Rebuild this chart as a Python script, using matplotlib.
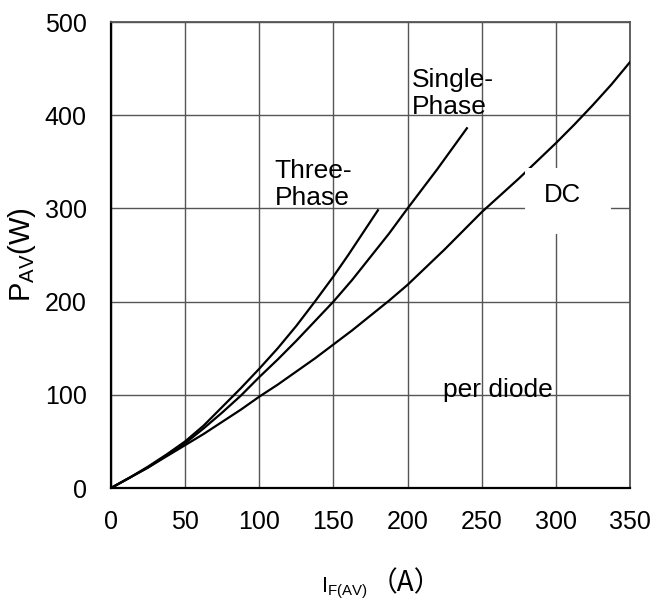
import matplotlib
matplotlib.use("Agg")
import matplotlib.pyplot as plt
from matplotlib.patches import Rectangle

plt.rcParams['font.family'] = ['Liberation Sans', 'Noto Sans CJK SC', 'DejaVu Sans']
plt.rcParams['mathtext.fontset'] = 'custom'
plt.rcParams['mathtext.rm'] = 'Liberation Sans'
plt.rcParams['mathtext.it'] = 'Liberation Sans'

# Data
dc_x = [0, 12.5, 25, 37.5, 50, 62.5, 75, 87.5, 100, 112.5, 125, 137.5, 150,
        162.5, 175, 187.5, 200, 212.5, 225, 237.5, 250, 262.5, 275, 287.5,
        300, 312.5, 325, 337.5, 350]
dc_y = [0, 11, 22, 34, 46, 58, 71, 84, 98, 111, 125, 139, 154,
        169, 185, 201, 218, 237, 256, 276, 296, 314, 332, 351,
        370, 390, 411, 433, 457]

single_x = [0, 12.5, 25, 37.5, 50, 62.5, 75, 87.5, 100, 112.5, 125, 137.5,
            150, 162.5, 175, 187.5, 200, 210, 220, 230, 240]
single_y = [0, 11, 22, 35, 48, 64, 81, 99, 119, 138, 158, 179,
            200, 223, 248, 273, 300, 321, 342, 364, 386]

three_x = [0, 12.5, 25, 37.5, 50, 62.5, 75, 87.5, 100, 112.5, 125, 137.5,
           150, 160, 170, 180]
three_y = [0, 11, 23, 36, 50, 67, 87, 107, 128, 150, 174, 200,
           227, 250, 274, 298]

x_ticks = [0, 50, 100, 150, 200, 250, 300, 350]
y_ticks = [0, 100, 200, 300, 400, 500]

W, H = 669, 602
fig = plt.figure(figsize=(W / 100, H / 100), dpi=100)
ax = fig.add_axes([111 / W, 1 - 488 / H, (630 - 111) / W, (488 - 22) / H])

ax.set_xlim(0, 350)
ax.set_ylim(0, 500)
ax.set_xticks(x_ticks)
ax.set_yticks(y_ticks)
ax.tick_params(length=0, labelsize=18)
ax.tick_params(axis='x', pad=16)
ax.tick_params(axis='y', pad=17.5)
ax.grid(True, color='#555555', linewidth=1.0)
ax.set_axisbelow(True)

for side in ['left', 'bottom']:
    ax.spines[side].set_color('black')
    ax.spines[side].set_linewidth(1.6)
for side in ['top', 'right']:
    ax.spines[side].set_color('#555555')
    ax.spines[side].set_linewidth(1.3)

lk = dict(color='black', linewidth=1.6, zorder=3)
ax.plot(dc_x, dc_y, **lk)
ax.plot(single_x, single_y, **lk)
ax.plot(three_x, three_y, **lk)

# white label background for "DC"
ax.add_patch(Rectangle((279.5, 272), 57.5, 71, facecolor='white',
                       edgecolor='none', zorder=4))
ax.text(292, 307, 'DC', fontsize=18.5, ha='left', va='baseline', zorder=5)
ax.text(203, 401, 'Single-\nPhase', fontsize=19, ha='left', va='baseline',
        linespacing=1.15, zorder=5)
ax.text(110.5, 303.5, 'Three-\nPhase', fontsize=19, ha='left', va='baseline',
        linespacing=1.15, zorder=5)
ax.text(224, 98, 'per diode', fontsize=19, ha='left', va='baseline', zorder=5)

ax.set_ylabel(r'$\mathregular{P_{AV}}$(W)', fontsize=21, labelpad=5)

fig.text(320.7 / W, 1 - 592 / H, r'$\mathregular{I_{F(AV)}}$', fontsize=15.5,
         ha='left', va='baseline')
fig.text(406 / W, 1 - 591 / H, '（A）', fontsize=20, ha='center',
         va='baseline', family=['Noto Sans CJK SC', 'DejaVu Sans'])

fig.savefig('out.png', dpi=100)
